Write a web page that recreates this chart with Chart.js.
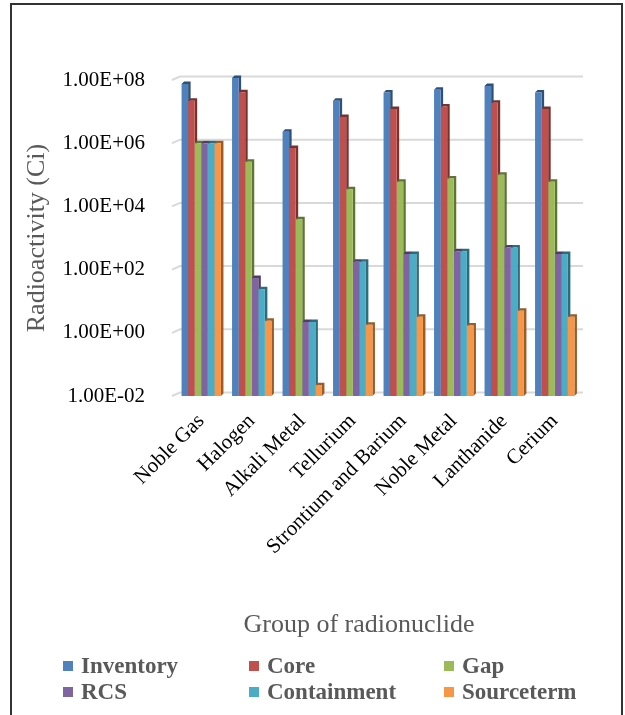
<!DOCTYPE html>
<html>
<head>
<meta charset="utf-8">
<script src="https://cdn.jsdelivr.net/npm/chart.js@4/dist/chart.umd.min.js"></script>
<style>
  html, body { margin: 0; padding: 0; background: #fff; }
  #wrap { position: relative; width: 625px; height: 715px; overflow: hidden; background: #fff; }
  #frame { position: absolute; left: 10px; top: 3px; width: 613px; height: 760px; border: 2px solid #333; box-sizing: border-box; }
  #chart { position: absolute; left: 0; top: 0; }
  .xtitle { position: absolute; left: 0; width: 718px; top: 608px; text-align: center;
            font: 26px "Liberation Serif", "Times New Roman", serif; color: #595959; line-height: 32px; }
  .item { position: absolute; font: bold 23px "Liberation Serif", "Times New Roman", serif; color: #595959;
          line-height: 26px; white-space: nowrap; padding-left: 18px; }
  .sw { position: absolute; left: 0; top: 8px; width: 10px; height: 10px; }
</style>
</head>
<body>
<div id="wrap">
  <div id="frame"></div>
  <canvas id="chart" width="625" height="715"></canvas>
  <div class="xtitle">Group of radionuclide</div>
  <div id="legend"></div>
</div>
<script>
// Radionuclide groups along the x axis
const categories = ['Noble Gas', 'Halogen', 'Alkali Metal', 'Tellurium',
                    'Strontium and Barium', 'Noble Metal', 'Lanthanide', 'Cerium'];

// Radioactivity (Ci) per group and release stage
const inventory   = [7.5e7, 1.15e8, 2.3e6, 2.2e7, 4.0e7, 4.9e7, 6.5e7, 4.0e7];
const core        = [2.2e7, 4.1e7, 7.1e5, 6.7e6, 1.2e7, 1.45e7, 1.9e7, 1.2e7];
const gap         = [1.0e6, 2.6e5, 3.9e3, 3.5e4, 6.0e4, 7.6e4, 1.0e5, 6.0e4];
const rcs         = [1.0e6, 54, 2.2, 178, 310, 380, 500, 310];
const containment = [1.0e6, 24, 2.2, 178, 310, 380, 500, 310];
const sourceterm  = [1.0e6, 2.4, 0.022, 1.8, 3.2, 1.7, 5.0, 3.2];

const seriesNames = ['Inventory', 'Core', 'Gap', 'RCS', 'Containment', 'Sourceterm'];
const seriesValues = [inventory, core, gap, rcs, containment, sourceterm];
const seriesColors = ['#4F81BD', '#C0504D', '#9BBB59', '#8064A2', '#4BACC6', '#F79646'];

// Log-axis ticks and their labels
const yTicks = [1e-2, 1e0, 1e2, 1e4, 1e6, 1e8];
const yTickLabels = ['1.00E-02', '1.00E+00', '1.00E+02', '1.00E+04', '1.00E+06', '1.00E+08'];

const SERIF = '"Liberation Serif", "Times New Roman", serif';

function shade(hex, f) {
  const n = parseInt(hex.slice(1), 16);
  const r = Math.round(((n >> 16) & 255) * f);
  const g = Math.round(((n >> 8) & 255) * f);
  const b = Math.round((n & 255) * f);
  return `rgb(${r},${g},${b})`;
}

// Back-wall gridlines with a short perspective stub on the left
const wallGrid = {
  id: 'wallGrid',
  beforeDatasetsDraw(chart) {
    const { ctx, chartArea: a } = chart;
    const y = chart.scales.y;
    ctx.save();
    ctx.strokeStyle = '#D9D9D9';
    ctx.lineWidth = 2;
    yTicks.forEach(v => {
      const yf = y.getPixelForValue(v);
      const yb = yf - 3.5;
      ctx.beginPath();
      ctx.moveTo(a.left - 4, yf);
      ctx.lineTo(a.left + 4, yb);
      ctx.lineTo(a.right + 3, yb);
      ctx.stroke();
    });
    ctx.restore();
  }
};

// Darker side and top faces behind each column for the 3-D look
const columnDepth = {
  id: 'columnDepth',
  beforeDatasetsDraw(chart) {
    const ctx = chart.ctx;
    const d = 2.5;
    ctx.save();
    chart.data.datasets.forEach((ds, i) => {
      const meta = chart.getDatasetMeta(i);
      ctx.fillStyle = shade(ds.backgroundColor, 0.62);
      meta.data.forEach(bar => {
        const { x, y, base, width } = bar.getProps(['x', 'y', 'base', 'width'], true);
        const l = x - width / 2, r = x + width / 2;
        ctx.beginPath();
        ctx.moveTo(l, y);
        ctx.lineTo(l + d, y - d);
        ctx.lineTo(r + d, y - d);
        ctx.lineTo(r + d, base - d);
        ctx.lineTo(r, base);
        ctx.lineTo(r, y);
        ctx.closePath();
        ctx.fill();
      });
    });
    ctx.restore();
  }
};

const chart = new Chart(document.getElementById('chart'), {
  type: 'bar',
  data: {
    labels: categories,
    datasets: seriesNames.map((name, i) => ({
      label: name,
      data: seriesValues[i],
      backgroundColor: seriesColors[i],
      borderWidth: 0,
      categoryPercentage: 0.78,
      barPercentage: 1.0,
      clip: false
    }))
  },
  options: {
    responsive: false,
    animation: false,
    devicePixelRatio: 1,
    layout: { padding: { top: 80, right: 45, bottom: 70, left: 0 } },
    plugins: { legend: { display: false }, tooltip: { enabled: false } },
    scales: {
      x: {
        grid: { display: false },
        border: { display: false },
        afterFit(scale) { scale.height = 249; },
        ticks: {
          autoSkip: false,
          minRotation: 45,
          maxRotation: 45,
          padding: 5,
          color: '#000',
          font: { family: SERIF, size: 21 }
        }
      },
      y: {
        type: 'logarithmic',
        min: 1e-2,
        max: 1e8,
        grid: { display: false },
        border: { display: false },
        afterFit(scale) { scale.width = 176; },
        afterBuildTicks(scale) { scale.ticks = yTicks.map(v => ({ value: v })); },
        ticks: {
          padding: 23,
          color: '#000',
          font: { family: SERIF, size: 21 },
          callback: (value, index) => yTickLabels[index]
        },
        title: {
          display: true,
          text: 'Radioactivity (Ci)',
          color: '#595959',
          font: { family: SERIF, size: 26 },
          padding: { top: 22, bottom: 0 }
        }
      }
    }
  },
  plugins: [wallGrid, columnDepth]
});

// Three-column legend below the plot
const legendPos = [[63, 653], [249, 653], [444, 653], [63, 679], [249, 679], [444, 679]];
const legend = document.getElementById('legend');
chart.data.datasets.forEach((ds, i) => {
  const item = document.createElement('div');
  item.className = 'item';
  item.style.left = legendPos[i][0] + 'px';
  item.style.top = legendPos[i][1] + 'px';
  const sw = document.createElement('span');
  sw.className = 'sw';
  sw.style.background = ds.backgroundColor;
  item.appendChild(sw);
  item.appendChild(document.createTextNode(ds.label));
  legend.appendChild(item);
});
</script>
</body>
</html>
